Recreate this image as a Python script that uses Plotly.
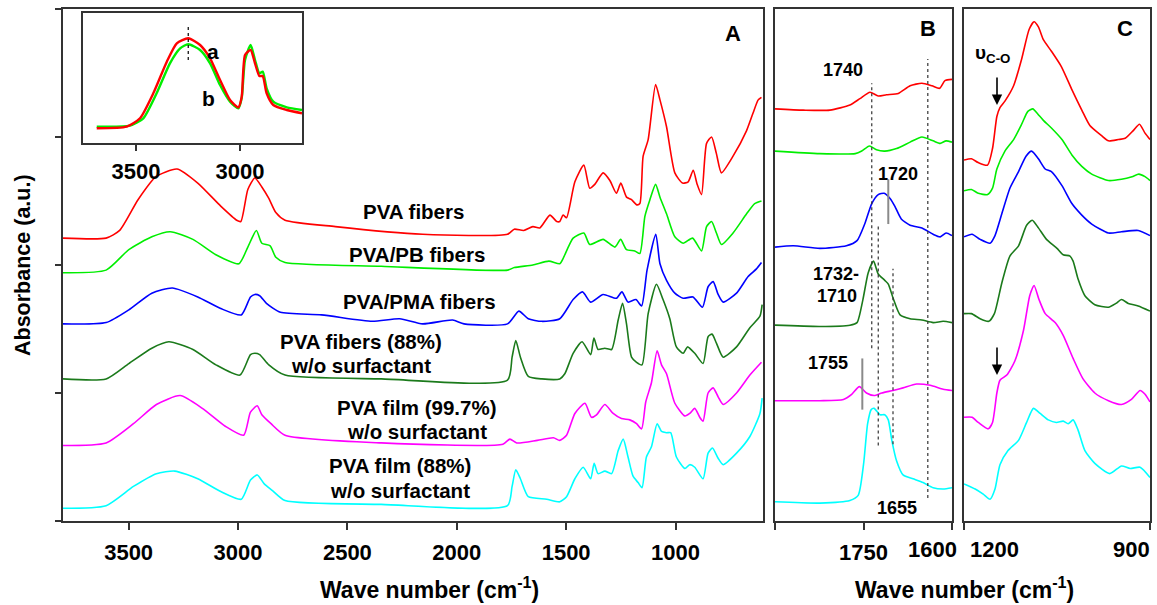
import plotly.graph_objects as go

W, H = 1157, 605

# ---------------- DATA ----------------
# Panel A : wave number (cm-1) and absorbance (a.u., stacked)
A_red_wn = [3800,3603,3541,3457,3375,3279,3184,3079,3006,2987,2955,2923,2891,2859,2827,2785,2555,2156,1768,1737,1694,1652,1620,1574,1543,1529,1514,1498,1460,1419,1392,1369,1331,1300,1270,1250,1224,1201,1177,1163,1148,1125,1091,1071,1041,1003,968,942,919,901,881,858,835,813,790,737,675,645,622,607]
A_red_y = [2.21,2.21,2.27,2.51,2.69,2.75,2.64,2.46,2.35,2.34,2.59,2.68,2.61,2.52,2.41,2.35,2.30,2.24,2.24,2.28,2.27,2.30,2.29,2.39,2.34,2.34,2.39,2.37,2.65,2.78,2.60,2.63,2.72,2.66,2.56,2.64,2.53,2.51,2.47,2.48,2.85,2.98,3.41,3.29,3.08,2.72,2.64,2.65,2.74,2.63,2.55,2.95,3.00,2.87,2.72,2.85,3.05,3.19,3.29,3.31]

A_green_wn = [3800,3603,3499,3394,3310,3206,3101,2996,2955,2916,2891,2853,2827,2785,2345,1768,1737,1652,1579,1529,1514,1468,1419,1392,1331,1277,1251,1224,1186,1163,1140,1117,1091,1071,1041,1003,965,922,881,858,835,813,790,737,675,638,607]
A_green_y = [1.94,1.96,2.12,2.22,2.26,2.20,2.08,2.01,2.14,2.27,2.17,2.15,2.06,2.02,1.99,1.96,1.98,2.00,2.03,2.01,2.05,2.21,2.25,2.16,2.20,2.14,2.20,2.12,2.11,2.09,2.38,2.51,2.63,2.53,2.40,2.22,2.17,2.21,2.11,2.30,2.34,2.25,2.16,2.25,2.40,2.48,2.50]

A_blue_wn = [3800,3603,3499,3394,3300,3184,3079,2985,2943,2923,2901,2870,2806,2618,2387,2261,2156,2019,1967,1768,1716,1673,1611,1529,1468,1425,1388,1331,1270,1245,1217,1181,1155,1130,1090,1071,1041,1003,965,920,877,851,828,805,782,721,668,630,607]
A_blue_y = [1.54,1.55,1.65,1.78,1.82,1.75,1.66,1.61,1.75,1.77,1.76,1.70,1.63,1.61,1.56,1.58,1.54,1.57,1.54,1.54,1.64,1.58,1.56,1.58,1.73,1.79,1.71,1.77,1.74,1.79,1.71,1.73,1.68,1.96,2.24,2.01,1.88,1.78,1.74,1.75,1.67,1.83,1.87,1.77,1.71,1.78,1.91,1.97,2.02]

A_dkgreen_wn = [3800,3603,3499,3394,3316,3206,3101,2991,2943,2923,2901,2859,2785,2345,1768,1747,1730,1709,1673,1611,1529,1506,1468,1427,1388,1373,1354,1323,1292,1262,1242,1224,1201,1178,1153,1125,1087,1057,1026,996,965,945,912,874,851,833,813,782,721,660,614,604]
A_dkgreen_y = [1.11,1.11,1.23,1.35,1.40,1.34,1.22,1.14,1.30,1.31,1.30,1.22,1.14,1.11,1.10,1.28,1.41,1.28,1.13,1.11,1.11,1.15,1.31,1.40,1.30,1.43,1.34,1.35,1.34,1.57,1.70,1.54,1.28,1.24,1.22,1.62,1.85,1.73,1.58,1.36,1.31,1.36,1.31,1.23,1.44,1.46,1.39,1.28,1.36,1.51,1.60,1.69]

A_mag_wn = [3800,3603,3478,3373,3264,3163,3058,2974,2943,2912,2891,2849,2785,2345,1789,1757,1726,1632,1558,1529,1498,1460,1414,1384,1361,1323,1285,1247,1209,1178,1155,1136,1110,1084,1064,1041,1003,957,935,912,889,874,851,828,805,782,721,660,607]
A_mag_y = [0.59,0.61,0.76,0.91,0.98,0.88,0.74,0.67,0.85,0.90,0.83,0.76,0.67,0.61,0.60,0.64,0.61,0.63,0.65,0.63,0.67,0.84,0.92,0.81,0.83,0.91,0.84,0.80,0.79,0.76,0.72,0.93,1.08,1.33,1.22,1.15,0.92,0.82,0.84,0.88,0.81,0.78,1.00,1.04,0.97,0.91,1.00,1.14,1.24]

A_cyan_wn = [3800,3603,3478,3373,3289,3184,3079,2985,2943,2912,2880,2844,2785,2345,1768,1747,1730,1709,1673,1589,1529,1498,1460,1422,1388,1372,1354,1323,1292,1262,1239,1217,1194,1171,1153,1133,1110,1084,1064,1041,1022,996,957,935,912,874,851,831,805,782,721,660,614,604]
A_cyan_y = [0.10,0.12,0.27,0.37,0.39,0.33,0.23,0.17,0.32,0.36,0.29,0.24,0.16,0.13,0.12,0.27,0.40,0.33,0.19,0.17,0.15,0.19,0.33,0.42,0.33,0.45,0.37,0.39,0.37,0.55,0.64,0.50,0.35,0.30,0.26,0.50,0.58,0.76,0.70,0.69,0.69,0.50,0.41,0.44,0.42,0.33,0.53,0.57,0.49,0.44,0.53,0.66,0.84,0.96]

# Panel B : carbonyl region
B_red_wn = [1900,1852,1807,1773,1756,1739,1725,1711,1691,1671,1651,1634,1621,1612,1600]
B_red_y = [3.22,3.21,3.21,3.25,3.30,3.35,3.32,3.33,3.34,3.40,3.42,3.40,3.38,3.44,3.45]
B_green_wn = [1900,1824,1764,1753,1740,1728,1714,1694,1671,1651,1632,1620,1610,1600]
B_green_y = [2.89,2.87,2.87,2.89,2.93,2.90,2.89,2.91,2.96,3.00,2.97,2.95,2.97,2.96]
B_blue_wn = [1900,1869,1824,1779,1761,1748,1736,1725,1715,1705,1697,1686,1671,1651,1632,1620,1610,1600]
B_blue_y = [2.14,2.15,2.13,2.15,2.19,2.32,2.48,2.55,2.56,2.52,2.46,2.36,2.31,2.29,2.24,2.22,2.25,2.23]
B_dkgreen_wn = [1900,1824,1773,1761,1751,1742,1733,1725,1714,1708,1699,1688,1671,1651,1632,1615,1600]
B_dkgreen_y = [1.53,1.52,1.53,1.55,1.73,1.94,2.03,1.93,1.88,1.85,1.73,1.61,1.58,1.57,1.55,1.56,1.55]
B_mag_wn = [1900,1824,1784,1770,1757,1745,1732,1719,1700,1683,1660,1637,1615,1600]
B_mag_y = [0.94,0.94,0.95,0.99,1.05,1.00,0.98,1.00,1.02,1.04,1.07,1.06,1.03,1.02]
B_cyan_wn = [1900,1824,1773,1759,1750,1743,1737,1732,1722,1714,1708,1702,1694,1683,1666,1649,1632,1615,1600]
B_cyan_y = [0.15,0.14,0.16,0.20,0.44,0.76,0.87,0.88,0.83,0.83,0.79,0.63,0.47,0.36,0.33,0.30,0.26,0.25,0.26]

# Panel C : C-O region
C_red_wn = [1200,1188,1177,1162,1154,1147,1142,1134,1120,1107,1095,1087,1080,1072,1059,1043,1026,1010,997,978,967,951,940,927,917,908,900]
C_red_y = [2.82,2.83,2.80,2.78,2.91,3.16,3.23,3.28,3.40,3.61,3.84,3.90,3.86,3.76,3.67,3.55,3.37,3.21,3.09,3.01,2.97,2.98,2.99,3.05,3.10,3.03,2.98]
C_green_wn = [1200,1188,1177,1162,1154,1147,1134,1120,1107,1097,1089,1081,1072,1059,1042,1026,1010,994,967,946,929,918,908,900]
C_green_y = [2.58,2.59,2.56,2.55,2.60,2.75,2.89,2.98,3.10,3.20,3.22,3.18,3.13,3.07,2.98,2.86,2.77,2.71,2.66,2.67,2.69,2.71,2.69,2.66]
C_blue_wn = [1200,1187,1174,1158,1150,1139,1126,1112,1100,1091,1080,1069,1059,1042,1026,1010,994,967,946,919,900]
C_blue_y = [2.22,2.24,2.20,2.17,2.23,2.40,2.60,2.73,2.85,2.89,2.83,2.75,2.73,2.62,2.48,2.39,2.32,2.25,2.26,2.27,2.23]
C_dkgreen_wn = [1200,1188,1174,1160,1151,1139,1126,1112,1099,1090,1080,1067,1050,1040,1029,1024,1016,1005,989,967,955,946,935,919,900]
C_dkgreen_y = [1.62,1.62,1.58,1.56,1.62,1.86,2.07,2.15,2.31,2.35,2.29,2.20,2.13,2.08,2.07,2.03,1.89,1.76,1.69,1.67,1.70,1.73,1.70,1.68,1.64]
C_mag_wn = [1200,1187,1177,1161,1154,1147,1142,1131,1118,1104,1094,1087,1079,1069,1053,1040,1024,1008,989,967,946,930,916,908,900]
C_mag_y = [0.81,0.81,0.77,0.72,0.77,1.00,1.10,1.14,1.25,1.49,1.76,1.84,1.73,1.62,1.55,1.45,1.27,1.11,1.00,0.94,0.91,0.95,1.02,0.99,0.93]
C_cyan_wn = [1200,1182,1169,1158,1150,1142,1129,1112,1099,1088,1077,1064,1051,1040,1032,1024,1016,1005,989,965,946,932,916,900]
C_cyan_y = [0.29,0.25,0.21,0.17,0.25,0.44,0.55,0.63,0.77,0.88,0.84,0.79,0.77,0.78,0.76,0.79,0.71,0.55,0.45,0.37,0.43,0.41,0.42,0.34]

# Inset : OH / CH stretching, a = red, b = green
IN_a_wn = [3689,3545,3481,3417,3352,3304,3249,3192,3144,3096,3048,3008,2992,2976,2949,2928,2907,2891,2872,2840,2775,2702]
IN_a_y = [0.147,0.163,0.247,0.497,0.813,0.997,1.047,0.98,0.847,0.63,0.43,0.357,0.46,0.88,0.93,0.797,0.67,0.67,0.497,0.38,0.33,0.297]
IN_b_wn = [3689,3529,3465,3401,3337,3288,3249,3192,3144,3096,3048,3008,2992,2976,2949,2928,2907,2891,2872,2840,2775,2702]
IN_b_y = [0.163,0.173,0.247,0.497,0.797,0.947,0.987,0.93,0.797,0.58,0.413,0.347,0.45,0.83,0.98,0.83,0.697,0.713,0.547,0.413,0.357,0.33]
IN_peak_wn = 3249

# Tick values / labels
A_ticks = [3500, 3000, 2500, 2000, 1500, 1000]
IN_ticks = [3500, 3000]
B_ticks = [1900, 1750, 1600]
C_ticks = [1200, 900]

# Band guide lines in panel B: (wave number, y from, y to, colour)
B_guides = [(1736, 1.35, 3.42, "#333333"), (1641, 0.18, 3.61, "#333333"),
            (1708, 2.32, 2.67, "#8a8a8a"), (1725, 0.59, 2.30, "#333333"),
            (1700, 0.60, 1.97, "#333333"), (1752, 0.87, 1.27, "#8a8a8a")]

SERIES_NAMES = ["PVA fibers", "PVA/PB fibers", "PVA/PMA fibers",
                "PVA fibers (88%) w/o surfactant", "PVA film (99.7%) w/o surfactant",
                "PVA film (88%) w/o surfactant"]
COLORS = ["#ff0000", "#00ee00", "#0000ff", "#1b7a1b", "#ff00ff", "#00ffff"]

# ---------------- FIGURE ----------------
def fx(px):
    return px / W

def fy(py):
    return 1 - py / H

fig = go.Figure()

panels = [
    ("x", "y", [(A_red_wn, A_red_y), (A_green_wn, A_green_y), (A_blue_wn, A_blue_y),
                (A_dkgreen_wn, A_dkgreen_y), (A_mag_wn, A_mag_y), (A_cyan_wn, A_cyan_y)]),
    ("x2", "y2", [(B_red_wn, B_red_y), (B_green_wn, B_green_y), (B_blue_wn, B_blue_y),
                  (B_dkgreen_wn, B_dkgreen_y), (B_mag_wn, B_mag_y), (B_cyan_wn, B_cyan_y)]),
    ("x3", "y3", [(C_red_wn, C_red_y), (C_green_wn, C_green_y), (C_blue_wn, C_blue_y),
                  (C_dkgreen_wn, C_dkgreen_y), (C_mag_wn, C_mag_y), (C_cyan_wn, C_cyan_y)]),
]
for xa, ya, sers in panels:
    for (xs, ys), col, nm in zip(sers, COLORS, SERIES_NAMES):
        assert len(xs) == len(ys), (nm, xa, len(xs), len(ys))
        fig.add_trace(go.Scatter(x=xs, y=ys, mode="lines", name=nm, xaxis=xa, yaxis=ya,
                                 line=dict(color=col, width=1.6, shape="spline", smoothing=0.6),
                                 hoverinfo="skip", showlegend=False))

for xs, ys, col in [(IN_b_wn, IN_b_y, "#00ee00"), (IN_a_wn, IN_a_y, "#ff0000")]:
    assert len(xs) == len(ys)
    fig.add_trace(go.Scatter(x=xs, y=ys, mode="lines", xaxis="x4", yaxis="y4",
                             line=dict(color=col, width=2.4, shape="spline", smoothing=0.6),
                             hoverinfo="skip", showlegend=False))

FONT = "Liberation Sans, Arial, sans-serif"
LC = "#333333"
ydom = [fy(521), fy(9)]

common = dict(showgrid=False, zeroline=False, showline=True, linecolor=LC, linewidth=1.5,
              mirror=True, tickcolor=LC, tickwidth=1.5)
tickfont = dict(family=FONT, size=22, color="black", weight="bold")

fig.update_layout(
    width=W, height=H, margin=dict(l=0, r=0, t=0, b=0),
    paper_bgcolor="white", plot_bgcolor="white", showlegend=False,
    xaxis=dict(domain=[fx(63), fx(763)], range=[3800, 600], anchor="y",
               tickvals=A_ticks, ticks="outside", ticklen=7, tickfont=tickfont,
               ticklabelstandoff=4, **common),
    yaxis=dict(domain=ydom, range=[0, 4], anchor="x", tickvals=[0, 1, 2, 3, 4],
               showticklabels=False, ticks="outside", ticklen=6, **common),
    xaxis2=dict(domain=[fx(775), fx(952)], range=[1900, 1600], anchor="y2",
                tickvals=B_ticks, ticktext=["", "1750", ""], ticks="outside", ticklen=7,
                tickfont=tickfont, ticklabelstandoff=4, **common),
    yaxis2=dict(domain=ydom, range=[0, 4], anchor="x2", showticklabels=False, ticks="", **common),
    xaxis3=dict(domain=[fx(964), fx(1150)], range=[1200, 900], anchor="y3",
                tickvals=C_ticks, ticktext=["", ""], ticks="outside", ticklen=7, **common),
    yaxis3=dict(domain=ydom, range=[0, 4], anchor="x3", showticklabels=False, ticks="", **common),
    xaxis4=dict(domain=[fx(83), fx(302)], range=[3755, 2702], anchor="y4",
                tickvals=IN_ticks, ticks="outside", ticklen=6, tickfont=tickfont,
                ticklabelstandoff=2, **common),
    yaxis4=dict(domain=[fy(143), fy(13)], range=[0, 1.3], anchor="x4",
                showticklabels=False, ticks="", **common),
)

shapes = []
for wn, y0, y1, col in B_guides:
    shapes.append(dict(type="line", xref="x2", yref="y2", x0=wn, x1=wn, y0=y0, y1=y1,
                       line=dict(color=col, width=1.2 if col == "#333333" else 2.0,
                                 dash="dot" if col == "#333333" else "solid")))
shapes.append(dict(type="line", xref="x4", yref="y4", x0=IN_peak_wn, x1=IN_peak_wn,
                   y0=0.83, y1=1.19, line=dict(color="black", width=1.2, dash="dot")))
fig.update_layout(shapes=shapes)

ann = []

def txt(s, px, py, size, **kw):
    d = dict(text="<b>%s</b>" % s, x=fx(px), y=fy(py), xref="paper", yref="paper",
             showarrow=False, xanchor="center", yanchor="middle",
             font=dict(family=FONT, size=size, color="black"))
    d.update(kw)
    ann.append(d)

# curve labels
LS = 20.5
txt("PVA fibers", 413, 211, LS)
txt("PVA/PB fibers", 417, 254, LS)
txt("PVA/PMA fibers", 419, 301, LS)
txt("PVA fibers (88%)", 361, 341, LS)
txt("w/o surfactant", 361, 365, LS)
txt("PVA film (99.7%)", 417, 407, LS)
txt("w/o surfactant", 417, 431, LS)
txt("PVA film (88%)", 400, 465, LS)
txt("w/o surfactant", 400, 490, LS)

# panel letters
txt("A", 733, 33, 22)
txt("B", 928, 29, 22)
txt("C", 1125, 29, 22)

# inset labels
txt("a", 213, 52, 21)
txt("b", 208, 98, 21)

# band labels in B
BS = 18
txt("1740", 843, 70, BS)
txt("1720", 898, 174, BS)
txt("1732-", 836, 274, BS)
txt("1710", 837, 296, BS)
txt("1755", 828, 363, BS)
txt("1655", 897, 508, BS)

# C annotation
txt("υ<sub>C-O</sub>", 992, 54, 19)
for y_tail, y_head in [(76, 105), (346, 375)]:
    ann.append(dict(x=fx(997), y=fy(y_head), xref="paper", yref="paper", ax=0,
                    ay=-(y_head - y_tail), axref="pixel", ayref="pixel", text="",
                    showarrow=True, arrowhead=2, arrowsize=1.3, arrowwidth=1.6,
                    arrowcolor="black"))

# extra tick labels for B / C
txt("1600", 932, 549, 22)
txt("1200", 994, 549, 22)
txt("900", 1131, 549, 22)

# axis titles
txt("Wave number (cm<sup>-1</sup>)", 429, 588, 23)
txt("Wave number (cm<sup>-1</sup>)", 964, 588, 23)
txt("Absorbance (a.u.)", 23, 265, 21.5, textangle=-90)

fig.update_layout(annotations=ann)
fig.write_html("out.html")
